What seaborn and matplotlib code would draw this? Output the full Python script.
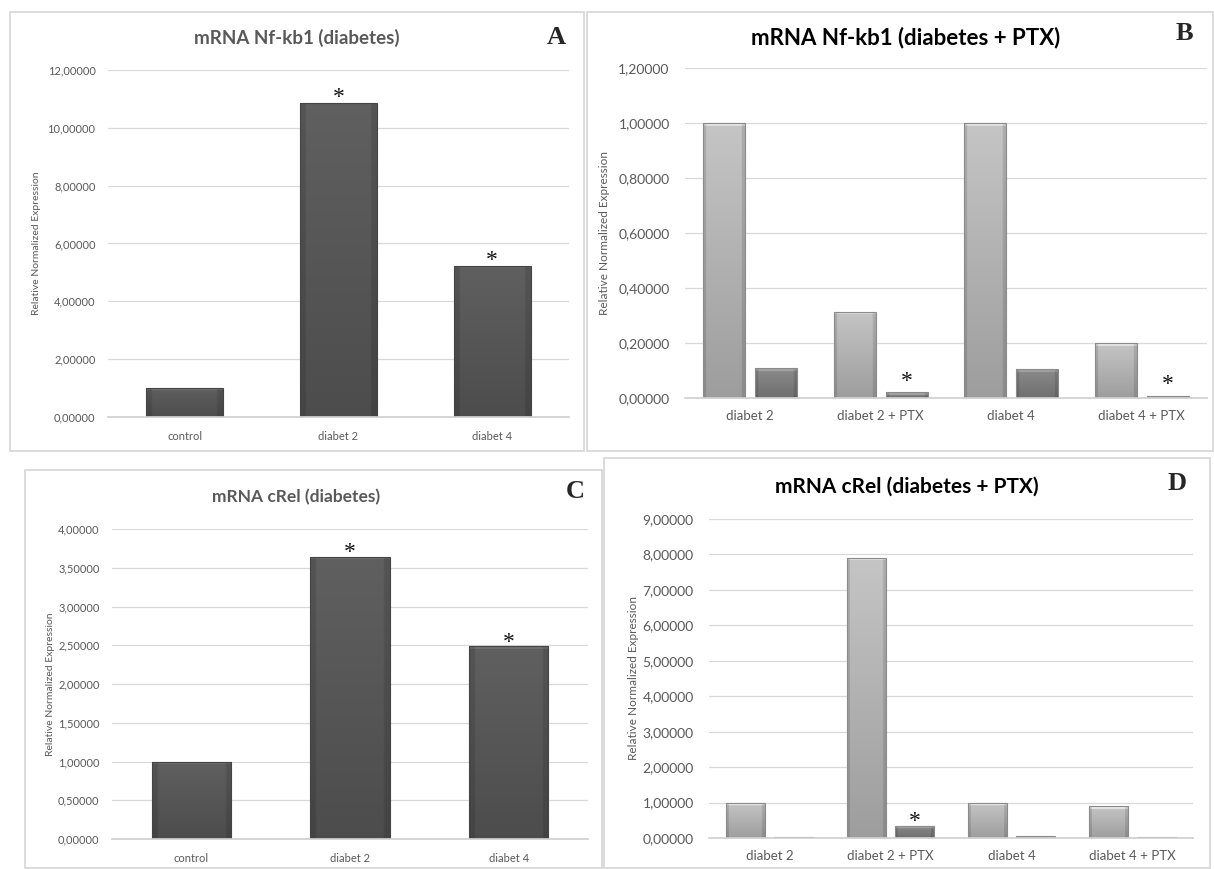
import numpy as np
import pandas as pd
import matplotlib
matplotlib.use("Agg")
import matplotlib.pyplot as plt
import seaborn as sns
from matplotlib.patches import Rectangle
from matplotlib.colors import to_rgb

# data
single_groups = ["control", "diabet 2", "diabet 4"]
nfkb1_diab = [1.01, 10.86, 5.23]
nfkb1_diab_star = [False, True, True]
crel_diab = [1.00, 3.645, 2.485]
crel_diab_star = [False, True, True]

ptx_groups = ["diabet 2", "diabet 2 + PTX", "diabet 4", "diabet 4 + PTX"]
ptx_series = ["calibrator", "sample"]
nfkb1_ptx_cal = [1.00, 0.314, 1.00, 0.199]
nfkb1_ptx_smp = [0.108, 0.021, 0.104, 0.009]
nfkb1_ptx_star = [False, True, False, True]
crel_ptx_cal = [0.99, 7.90, 0.99, 0.90]
crel_ptx_smp = [0.02, 0.34, 0.045, 0.04]
crel_ptx_star = [False, True, False, False]

sns.set_theme(style="white")
plt.rcParams["font.family"] = ["Lato", "DejaVu Sans"]

W, H = 1214, 869
fig = plt.figure(figsize=(W / 100, H / 100), dpi=100)
fig.patch.set_facecolor("white")


def px_axes(x0, y0, x1, y1):
    return fig.add_axes([x0 / W, 1 - y1 / H, (x1 - x0) / W, (y1 - y0) / H])


def frame(x0, y0, x1, y1):
    fig.patches.append(Rectangle((x0 / W, 1 - y1 / H), (x1 - x0) / W, (y1 - y0) / H,
                                 transform=fig.transFigure, fill=False,
                                 edgecolor="#d9d9d9", lw=1.3))


def shade(ax, edge):
    # gradient fill with a light bevel on top, clipped to each bar
    xl, yl = ax.get_xlim(), ax.get_ylim()
    ax_px = ax.get_position().height * H
    for p in list(ax.patches):
        h = p.get_height()
        if h <= 0:
            continue
        base = np.array(to_rgb(p.get_facecolor()))
        x0, w = p.get_x(), p.get_width()
        ny, nx = 200, 40
        v = np.linspace(0.88, 1.1, ny)
        bar_px = h / (yl[1] - yl[0]) * ax_px
        nb = int(np.clip(ny * 3.0 / max(bar_px, 1), 1, ny))
        v[-nb:] = 1.3
        hp = np.ones(nx)
        hp[:3] = 0.88
        hp[-3:] = 0.88
        img = np.clip(base[None, None, :] * v[:, None, None] * hp[None, :, None], 0, 1)
        im = ax.imshow(img, extent=[x0, x0 + w, 0, h], origin="lower", aspect="auto",
                       interpolation="bilinear", zorder=p.get_zorder() + 0.1)
        im.set_clip_path(p)
        p.set_facecolor("none")
        p.set_edgecolor(edge)
        p.set_linewidth(0.8)
        p.set_zorder(p.get_zorder() + 0.2)
    ax.set_xlim(xl)
    ax.set_ylim(yl)


def style(ax, ticks, tsize, xsize, ysize, ypad, xpad, lab_x):
    ax.set_ylim(ticks[0], ticks[-1])
    ax.set_yticks(ticks)
    ax.set_yticklabels([f"{t:.5f}".replace(".", ",") for t in ticks])
    ax.yaxis.grid(True, color="#d9d9d9", lw=0.9)
    ax.set_axisbelow(True)
    for s in ["top", "right", "left"]:
        ax.spines[s].set_visible(False)
    ax.spines["bottom"].set_color("#d0d0d0")
    ax.tick_params(axis="y", length=0, labelsize=tsize, labelcolor="#595959", pad=ypad)
    ax.tick_params(axis="x", length=0, labelsize=xsize, labelcolor="#595959", pad=xpad)
    ax.set_xlabel("")
    ax.set_ylabel("Relative Normalized Expression", fontsize=ysize, color="#595959")
    ax.yaxis.label.set_va("center")
    ax.yaxis.set_label_coords(lab_x, 0.5)


def stars(ax, bars, flags, off):
    for b, f in zip(bars, flags):
        if f:
            ax.annotate("*", (b.get_x() + b.get_width() / 2, b.get_height()),
                        xytext=(0, off), textcoords="offset points",
                        ha="center", va="baseline", fontsize=17,
                        family=["Liberation Serif", "DejaVu Serif"], color="#111111")


def single_panel(box, pos, values, flags, ticks, title, tsize, letter, tpos, lpos,
                 fs, star_off, lab_x):
    frame(*box)
    ax = px_axes(*pos)
    sns.barplot(x=single_groups, y=values, color="#575757", width=0.5, ax=ax,
                saturation=1)
    ax.set_xlim(-0.5, 2.5)
    style(ax, ticks, fs[0], fs[1], fs[2], 9, 10, lab_x)
    shade(ax, "#444444")
    stars(ax, ax.containers[0], flags, star_off)
    fig.text(tpos[0] / W, 1 - tpos[1] / H, title, ha="center", va="center",
             fontsize=tsize, fontweight="bold", color="#595959")
    fig.text(lpos[0] / W, 1 - lpos[1] / H, letter, ha="center", va="center",
             fontsize=19, fontweight="bold", family=["Liberation Serif", "DejaVu Serif"])


def ptx_panel(box, pos, cal, smp, flags, ticks, title, tsize, letter, tpos, lpos,
              fs, star_off, lab_x):
    frame(*box)
    ax = px_axes(*pos)
    df = pd.DataFrame({
        "group": ptx_groups * 2,
        "series": [ptx_series[0]] * 4 + [ptx_series[1]] * 4,
        "value": cal + smp,
    })
    sns.barplot(data=df, x="group", y="value", hue="series", order=ptx_groups,
                hue_order=ptx_series, palette=["#b3b3b3", "#7e7e7e"], width=0.8,
                gap=0.2, legend=False, ax=ax, saturation=1)
    ax.set_xlim(-0.5, 3.5)
    style(ax, ticks, fs[0], fs[1], fs[2], 11, 9, lab_x)
    shade(ax, "#8a8a8a")
    stars(ax, ax.containers[1], flags, star_off)
    fig.text(tpos[0] / W, 1 - tpos[1] / H, title, ha="center", va="center",
             fontsize=tsize, fontweight="bold", color="black")
    fig.text(lpos[0] / W, 1 - lpos[1] / H, letter, ha="center", va="center",
             fontsize=19, fontweight="bold", family=["Liberation Serif", "DejaVu Serif"])


single_panel((10, 12, 584, 451), (108, 70, 569, 417), nfkb1_diab, nfkb1_diab_star,
             np.arange(0, 12.1, 2), "mRNA Nf-kb1 (diabetes)", 13.5, "A",
             (297, 38), (556, 38), (8, 8, 7.5), 0, -0.156)

ptx_panel((587, 12, 1213, 451), (685, 68, 1207, 398), nfkb1_ptx_cal, nfkb1_ptx_smp,
          nfkb1_ptx_star, np.round(np.arange(0, 1.21, 0.2), 2),
          "mRNA Nf-kb1 (diabetes + PTX)", 16, "B", (906, 38), (1184, 34),
          (10, 9.5, 8.5), 4, -0.155)

single_panel((25, 470, 602, 868), (112, 529, 588, 839), crel_diab, crel_diab_star,
             np.arange(0, 4.01, 0.5), "mRNA cRel (diabetes)", 12.5, "C",
             (296, 497), (575, 492), (8, 8, 7.5), -1, -0.13)

ptx_panel((604, 458, 1210, 868), (709, 519, 1193, 838), crel_ptx_cal, crel_ptx_smp,
          crel_ptx_star, np.arange(0, 9.01, 1), "mRNA cRel (diabetes + PTX)", 15,
          "D", (907, 487), (1177, 484), (10, 9.5, 8.5), -1, -0.155)

fig.savefig("out.png", dpi=100, facecolor="white")
